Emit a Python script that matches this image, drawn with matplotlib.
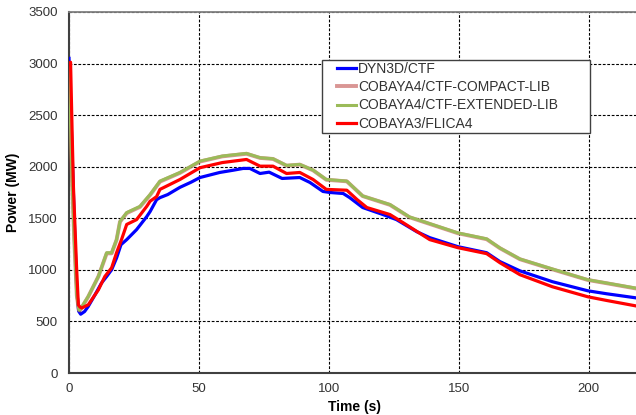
import matplotlib
matplotlib.use("Agg")
import matplotlib.pyplot as plt
from matplotlib.lines import Line2D
from matplotlib.legend_handler import HandlerLine2D


# DYN3D/CTF
dyn3d_time = [0, 0.5, 1, 2, 3, 3.7, 4.5, 6, 7.4, 10, 12.5, 14.5, 16.4, 18.3, 20,
    22.2, 26, 29.9, 31.2, 33.7, 35, 38, 42.7, 47, 50.4, 58, 63, 67, 69.6, 73.5,
    77, 82, 88.8, 92.7, 97.7, 100.4, 105.5, 108, 113, 120.8, 126, 133.8, 138.8,
    149.6, 160.7, 165.8, 173.5, 186, 199.6, 206.9, 218]
dyn3d_power = [3050, 2700, 2300, 1500, 800, 600, 570, 596, 645, 758, 872, 936,
    1001, 1115, 1244, 1293, 1390, 1516, 1565, 1680, 1700, 1730, 1800, 1850, 1895,
    1944, 1965, 1983, 1983, 1934, 1947, 1886, 1895, 1847, 1760, 1750, 1740, 1700,
    1604, 1536, 1487, 1370, 1312, 1225, 1166, 1080, 990, 885, 797, 768, 729]

# COBAYA4/CTF-COMPACT-LIB
compact_time = [0, 0.5, 1, 2, 3, 3.8, 4.2, 7.4, 11.3, 14.5, 16.4, 18.3, 19.6,
    22.2, 27.3, 31.2, 35, 42.7, 50.4, 59, 68.3, 73.5, 78.5, 83.7, 88.8, 93.9, 99,
    106.9, 113, 123.5, 131, 138.8, 149.6, 160.7, 165.8, 173.5, 186, 199.6, 206.9,
    218]
compact_power = [2990, 2500, 2000, 1300, 750, 610, 605, 740, 935, 1160, 1160,
    1290, 1465, 1550, 1610, 1725, 1855, 1940, 2050, 2100, 2125, 2085, 2075, 2010,
    2020, 1965, 1873, 1858, 1715, 1630, 1510, 1445, 1355, 1297, 1210, 1103, 1005,
    902, 870, 820]

# COBAYA4/CTF-EXTENDED-LIB
extended_time = [0, 0.5, 1, 2, 3, 3.8, 4.2, 7.4, 11.3, 14.5, 16.4, 18.3, 19.6,
    22.2, 27.3, 31.2, 35, 42.7, 50.4, 59, 68.3, 73.5, 78.5, 83.7, 88.8, 93.9, 99,
    106.9, 113, 123.5, 131, 138.8, 149.6, 160.7, 165.8, 173.5, 186, 199.6, 206.9,
    218]
extended_power = [3000, 2500, 2000, 1300, 750, 610, 612, 742, 936, 1166, 1166,
    1293, 1468, 1555, 1615, 1730, 1860, 1944, 2054, 2103, 2129, 2087, 2077, 2012,
    2022, 1967, 1876, 1860, 1716, 1633, 1513, 1448, 1358, 1300, 1212, 1105, 1008,
    904, 872, 823]

# COBAYA3/FLICA4
flica_time = [0, 0.6, 1.2, 1.7, 2.9, 3.6, 4.2, 4.9, 7.4, 11.3, 13.8, 16.4, 18.3,
    20.2, 22.2, 26, 29.9, 31.2, 33.7, 35, 42.7, 50.4, 59, 68.3, 73.5, 78.5, 83.7,
    88.8, 93.9, 99, 106.9, 110.8, 114.6, 123.5, 128.5, 138.8, 149.6, 160.7, 165.8,
    173.5, 186, 199.6, 206.9, 218]
flica_power = [3000, 3013, 2333, 1808, 1030, 660, 640, 630, 661, 806, 936, 1020,
    1166, 1293, 1440, 1487, 1615, 1665, 1710, 1780, 1876, 1990, 2040, 2070, 2005,
    2005, 1934, 1944, 1876, 1780, 1772, 1682, 1604, 1536, 1458, 1293, 1215, 1157,
    1069, 953, 836, 739, 703, 651]

x_ticks = [0, 50, 100, 150, 200]
y_ticks = [0, 500, 1000, 1500, 2000, 2500, 3000, 3500]

plt.rcParams["font.family"] = ["Liberation Sans", "DejaVu Sans"]

figure = plt.figure(figsize=(6.36, 4.15), dpi=100)
axes = figure.add_axes([0.1085, 0.1012, 0.899, 0.870])

axes.plot(dyn3d_time, dyn3d_power, color="#0000ff", linewidth=2.3,
    label="DYN3D/CTF", zorder=3)
axes.plot(compact_time, compact_power, color="#c0504d", linewidth=2.8,
    alpha=0.6, label="COBAYA4/CTF-COMPACT-LIB", zorder=4)
axes.plot(extended_time, extended_power, color="#9bbb59", linewidth=2.2,
    label="COBAYA4/CTF-EXTENDED-LIB", zorder=5)
axes.plot(flica_time, flica_power, color="#ff0000", linewidth=2.3,
    label="COBAYA3/FLICA4", zorder=6)

axes.set_xlim(0, 220)
axes.set_ylim(0, 3500)
axes.set_xticks(x_ticks)
axes.set_yticks(y_ticks)
axes.tick_params(length=0, labelsize=9.5, labelcolor="#333333")
axes.tick_params(axis="y", pad=8)
axes.tick_params(axis="x", pad=7)

axes.grid(True, color="black", linestyle=(0, (2.5, 1.5)), linewidth=0.8)
axes.set_axisbelow(True)

for side in ["left", "bottom"]:
    axes.spines[side].set_color("#404040")
    axes.spines[side].set_linewidth(1.5)
axes.spines["top"].set_color("#808080")
axes.spines["top"].set_linewidth(1.3)
axes.spines["right"].set_visible(False)

axes.set_xlabel("Time (s)", fontsize=10, fontweight="bold", labelpad=4)
axes.set_ylabel("Power (MW)", fontsize=10, fontweight="bold", labelpad=6)

# legend box: wide frame, short line handles pushed in from the left edge
legend = axes.legend(loc="upper left", bbox_to_anchor=(0.442, 0.667, 0.470, 0.2),
    mode="expand", fontsize=10, fancybox=False, framealpha=1,
    edgecolor="#404040", handlelength=2.3, handletextpad=0.15, borderpad=0.15,
    labelspacing=0.3, borderaxespad=0,
    handler_map={Line2D: HandlerLine2D(xpad=0.95)})
legend.get_frame().set_linewidth(1.0)
for text in legend.get_texts():
    text.set_color("#333333")

plt.savefig("out.png", dpi=100)
plt.close()
